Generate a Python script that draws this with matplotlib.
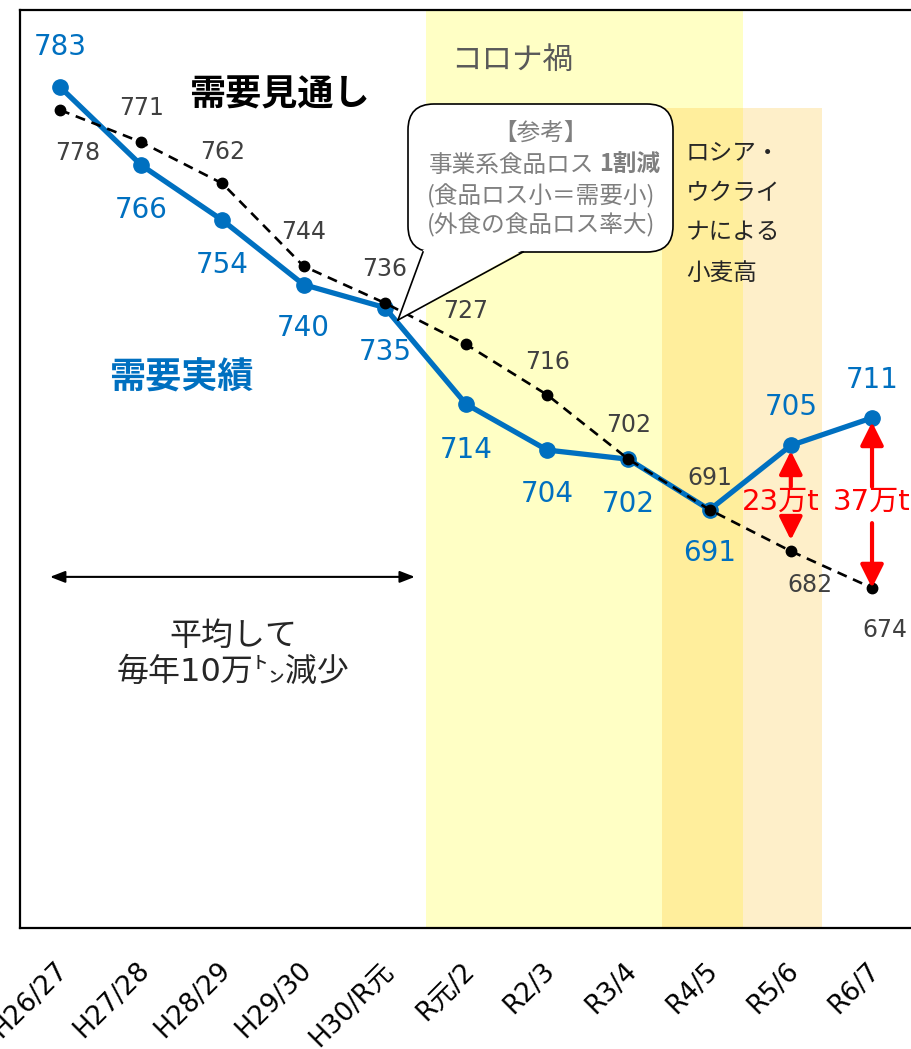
import matplotlib
matplotlib.use("Agg")
import matplotlib.pyplot as plt
from matplotlib.patches import FancyBboxPatch, Polygon
from matplotlib.transforms import IdentityTransform, ScaledTranslation
from matplotlib.lines import Line2D

plt.rcParams['font.family'] = ['DejaVu Sans', 'Noto Sans CJK JP']

# ---- data -------------------------------------------------------------
years = ["H26/27", "H27/28", "H28/29", "H29/30", "H30/R元", "R元/2",
         "R2/3", "R3/4", "R4/5", "R5/6", "R6/7"]
actual = [783, 766, 754, 740, 735, 714, 704, 702, 691, 705, 711]      # 需要実績
outlook = [778, 771, 762, 744, 736, 727, 716, 702, 691, 682, 674]     # 需要見通し

# label offsets in pixels (dx, dy), dy positive = upward
actual_off = [(0, 40), (0, -45), (0, -45), (0, -43), (0, -44), (0, -46),
              (0, -44), (0, -45), (0, -43), (0, 38), (0, 38)]
outlook_off = [(18, -43), (0, 34), (0, 31), (0, 34), (0, 34), (0, 33),
               (0, 33), (0, 34), (0, 32), (19, -34), (13, -42)]

BLUE = "#0070C0"
W, H = 911, 1049

fig = plt.figure(figsize=(W / 100, H / 100), dpi=100)
ax = fig.add_axes([20 / W, 1 - 928 / H, 1 - 20 / W, (928 - 10) / H])
ax.set_xlim(-0.4926, 10.48)
ax.set_ylim(600, 799.75)

# shaded periods
ax.axvspan(4.507, 8.411, color="#FFFFC5", lw=0, zorder=0)            # コロナ禍
uk_top = (778.4 - 600) / 199.75
ax.axvspan(7.414, 8.411, ymax=uk_top, color="#FFEE9C", lw=0, zorder=0.5)
ax.axvspan(8.411, 9.384, ymax=uk_top, color="#FEEFC9", lw=0, zorder=0.5)

x = list(range(len(years)))
ax.plot(x, actual, color=BLUE, lw=3.8, marker="o", ms=11, zorder=3,
        solid_capstyle="round")
ax.plot(x, outlook, color="black", lw=1.9, ls=(0, (3.8, 2.6)), marker="o",
        ms=7.5, zorder=4)

for xi, v, (dx, dy) in zip(x, actual, actual_off):
    ax.annotate(str(v), (xi, v), xytext=(dx, dy), textcoords="offset pixels",
                ha="center", va="center", fontsize=20, color=BLUE, zorder=6)
for xi, v, (dx, dy) in zip(x, outlook, outlook_off):
    ax.annotate(str(v), (xi, v), xytext=(dx, dy), textcoords="offset pixels",
                ha="center", va="center", fontsize=17, color="#404040", zorder=6)

# axes styling
ax.set_yticks([])
ax.set_xticks(x)
ax.set_xticklabels(years, rotation=45, ha="right", va="top",
                   rotation_mode="anchor", fontsize=19)
ax.tick_params(axis="x", length=0, pad=21)
shift = ScaledTranslation(-5 / 100, 0, fig.dpi_scale_trans)
for lbl in ax.get_xticklabels():
    lbl.set_transform(lbl.get_transform() + shift)
for s in ["left", "top", "bottom"]:
    ax.spines[s].set_linewidth(1.6)
ax.spines["right"].set_visible(False)

# gap arrows between outlook and actual
ARROW = dict(arrowstyle="-|>,head_length=0.7,head_width=0.35", color="red",
             lw=3, mutation_scale=20, shrinkA=0)
Y_UP_TAIL, Y_TEXT, Y_DOWN_TAIL = 696.0, 692.7, 688.1

def gap_arrow(xi, y_top, y_bot, label, shrink_top, shrink_bot, text_dx):
    ax.annotate("", xy=(xi, y_top), xytext=(xi, Y_UP_TAIL),
                arrowprops=dict(ARROW, shrinkB=shrink_top), zorder=5)
    ax.annotate("", xy=(xi, y_bot), xytext=(xi, Y_DOWN_TAIL),
                arrowprops=dict(ARROW, shrinkB=shrink_bot), zorder=5)
    ax.annotate(label, (xi, Y_TEXT), xytext=(text_dx, 0),
                textcoords="offset pixels", ha="center", va="center",
                fontsize=21, color="red", zorder=6)

gap_arrow(9, actual[9], outlook[9], f"{actual[9] - outlook[9]}万t", 4, 8, -10)
gap_arrow(10, actual[10], outlook[10], f"{actual[10] - outlook[10]}万t", 3, 0, 0)

# 10-year average arrow
ax.annotate("", xy=(-0.123, 676.4), xytext=(4.37, 676.4),
            arrowprops=dict(arrowstyle="<|-|>,head_length=0.9,head_width=0.35",
                            color="black", lw=1.5, shrinkA=0, shrinkB=0))
ax.text(2.13, 663.6, "平均して", ha="center", va="center", fontsize=23,
        color="#262626", family=["Noto Sans CJK JP"])
ax.text(2.13, 655.6, "毎年10万㌧減少", ha="center", va="center", fontsize=23,
        color="#262626", family=["DejaVu Sans", "Noto Sans CJK JP"])

# titles inside the plot
fig.text(279 / W, 1 - 95 / H, "需要見通し", ha="center", va="center",
         fontsize=26, fontweight="bold", color="black",
         family=["Noto Sans CJK JP"])
fig.text(181 / W, 1 - 378 / H, "需要実績", ha="center", va="center",
         fontsize=26, fontweight="bold", color=BLUE,
         family=["Noto Sans CJK JP"])
fig.text(512 / W, 1 - 60 / H, "コロナ禍", ha="center", va="center",
         fontsize=22, color="#595959", family=["Noto Sans CJK JP"])
for i, line in enumerate(["ロシア・", "ウクライ", "ナによる", "小麦高"]):
    fig.text(686 / W, 1 - (153 + 40 * i) / H, line, ha="left", va="center",
             fontsize=17, color="#262626", family=["Noto Sans CJK JP"])

# callout bubble
idt = IdentityTransform()
bx0, bx1, by0, by1 = 408, 673, 104, 252
box = FancyBboxPatch((bx0, H - by1), bx1 - bx0, by1 - by0,
                     boxstyle="round,pad=0,rounding_size=26",
                     transform=idt, facecolor="white", edgecolor="black",
                     lw=1.2, zorder=7)
fig.patches.append(box)
tail = [(423, by1), (398, 320), (523, by1)]
fig.patches.append(Polygon([(px, H - py) for px, py in
                            [(423, by1 - 2), (398, 320), (523, by1 - 2)]],
                           closed=True, transform=idt, facecolor="white",
                           edgecolor="none", zorder=8))
for a, b in [(tail[0], tail[1]), (tail[1], tail[2])]:
    fig.lines.append(Line2D([a[0], b[0]], [H - a[1], H - b[1]], transform=idt,
                            color="black", lw=1.2, zorder=9))

GRAY = "#7F7F7F"
FS = 17
JP = ["Noto Sans CJK JP"]
fig.text(541 / W, 1 - 133 / H, "【参考】", ha="center", va="center",
         fontsize=FS, color=GRAY, zorder=10, family=JP)
fig.text(594 / W, 1 - 165 / H, "事業系食品ロス", ha="right", va="center",
         fontsize=FS, color=GRAY, zorder=10, family=JP)
fig.text(599 / W, 1 - 165 / H, "1割減", ha="left", va="center",
         fontsize=FS, color=GRAY, fontweight="bold", zorder=10, family=JP)
fig.text(541 / W, 1 - 196 / H, "(食品ロス小＝需要小)", ha="center", va="center",
         fontsize=FS, color=GRAY, zorder=10, family=JP)
fig.text(541 / W, 1 - 225 / H, "(外食の食品ロス率大)", ha="center", va="center",
         fontsize=FS, color=GRAY, zorder=10, family=JP)

fig.savefig("out.png", dpi=100)
